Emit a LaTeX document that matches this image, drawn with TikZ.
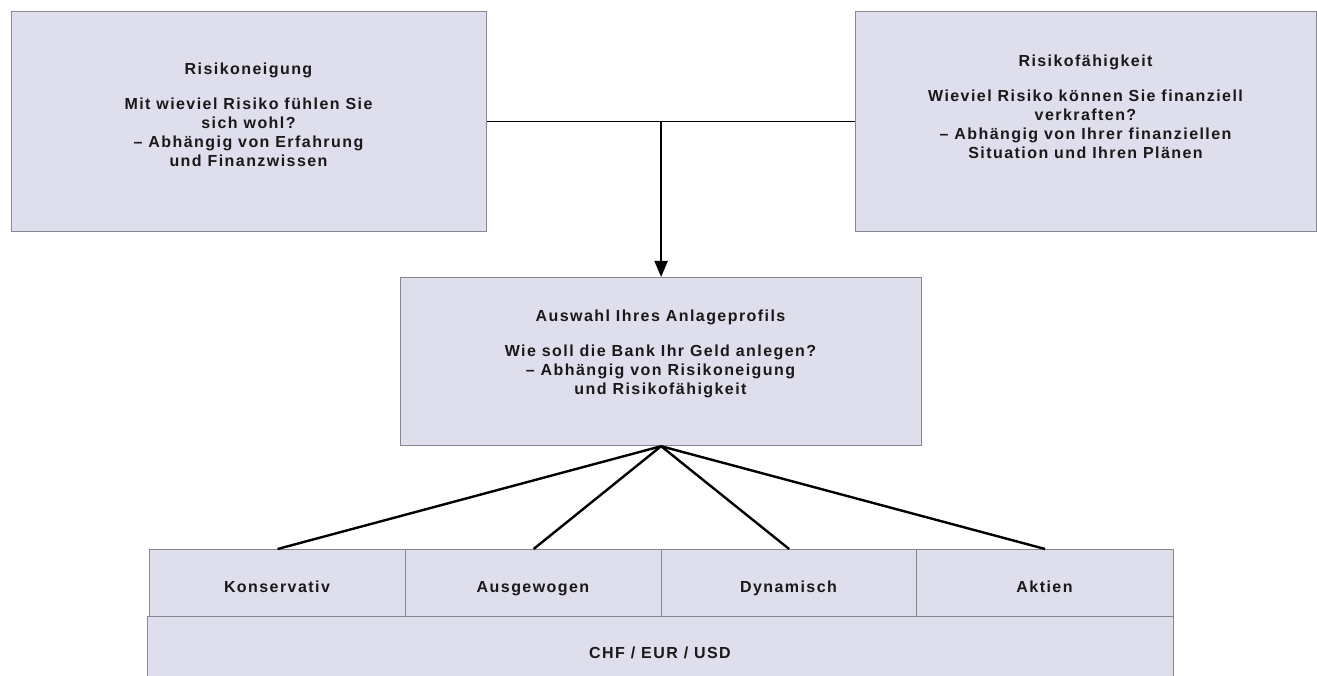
\documentclass[tikz,border=0pt]{standalone}
\usepackage{fontspec}
\newfontfamily\labfont{Liberation Sans}[LetterSpace=9]
\usetikzlibrary{arrows.meta}
\definecolor{boxfill}{RGB}{222,222,236}
\definecolor{boxline}{RGB}{135,135,145}
\definecolor{txt}{RGB}{25,25,25}
\begin{document}
\begin{tikzpicture}[x=1pt,y=-1pt,
  box/.style={draw=boxline, line width=1.2pt, fill=boxfill, inner sep=0pt, anchor=north west},
  lbl/.style={text=txt, font=\labfont\bfseries\fontsize{16}{19}\selectfont, align=center, inner sep=0pt},
  hlink/.style={line width=1.5pt, draw=black},
  arrowlink/.style={line width=2pt, draw=black, -{Triangle[width=13pt,length=16pt]}},
  fan/.style={line width=2.4pt, draw=black}]
\useasboundingbox (0,0) rectangle (1317,676);
% boxes
\node[box, minimum width=475pt, minimum height=220pt] (rn) at (11,11) {};
\node[box, minimum width=461pt, minimum height=220pt] (rf) at (855,11) {};
\node[box, minimum width=521pt, minimum height=168pt] (ap) at (400,277) {};
\node[box, minimum width=1026pt, minimum height=70pt] (cur) at (147,616) {};
\node[box, minimum width=256pt, minimum height=67pt] (kon) at (149,549) {};
\node[box, minimum width=256pt, minimum height=67pt] (aus) at (405,549) {};
\node[box, minimum width=255pt, minimum height=67pt] (dyn) at (661,549) {};
\node[box, minimum width=257pt, minimum height=67pt] (akt) at (916,549) {};
% texts
\node[lbl, anchor=north] (rnT) at (248.5,63) {Risikoneigung\\[16pt]Mit wieviel Risiko fühlen Sie\\sich wohl?\\– Abhängig von Erfahrung\\und Finanzwissen};
\node[lbl, anchor=north] (rfT) at (1085.5,55) {Risikofähigkeit\\[16pt]Wieviel Risiko können Sie finanziell\\verkraften?\\– Abhängig von Ihrer finanziellen\\Situation und Ihren Plänen};
\node[lbl, anchor=north] (apT) at (660.5,310) {Auswahl Ihres Anlageprofils\\[16pt]Wie soll die Bank Ihr Geld anlegen?\\– Abhängig von Risikoneigung\\und Risikofähigkeit};
\node[lbl, anchor=base] (konT) at (277,592) {Konservativ};
\node[lbl, anchor=base] (ausT) at (533,592) {Ausgewogen};
\node[lbl, anchor=base] (dynT) at (788.5,592) {Dynamisch};
\node[lbl, anchor=base] (aktT) at (1044.5,592) {Aktien};
\node[lbl, anchor=base] (curT) at (660,658) {CHF / EUR / USD};
% connectors
\draw[hlink] (rn.east) -- (rf.west);
\coordinate (jn) at (rn.east -| ap.north);
\draw[arrowlink] (jn) -- (ap.north);
\draw[fan] (ap.south) -- (kon.north);
\draw[fan] (ap.south) -- (aus.north);
\draw[fan] (ap.south) -- (dyn.north);
\draw[fan] (ap.south) -- (akt.north);
\end{tikzpicture}
\end{document}
